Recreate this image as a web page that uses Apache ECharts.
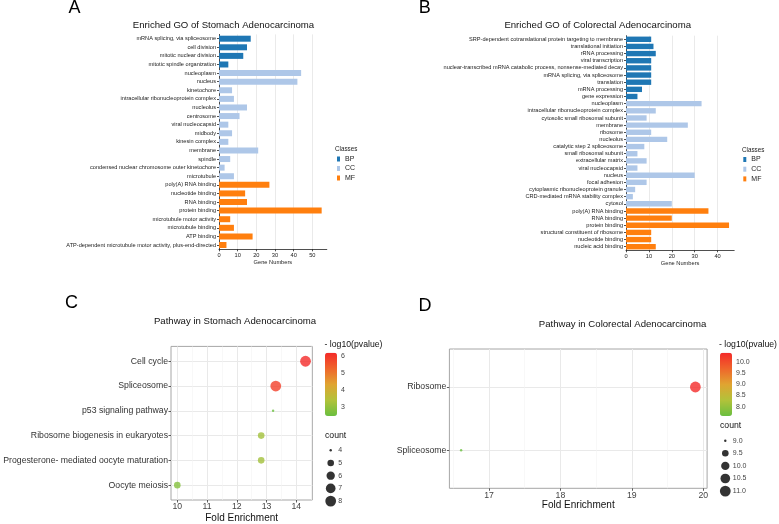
<!DOCTYPE html>
<html><head><meta charset="utf-8">
<script src="https://cdn.jsdelivr.net/npm/echarts@6/dist/echarts.min.js"></script>
<style>html,body{margin:0;padding:0;background:#fff}#c{width:779px;height:524px}</style>
</head><body><div id="c"></div>
<script>
const catsA = ['mRNA splicing, via spliceosome','cell division','mitotic nuclear division','mitotic spindle organization','nucleoplasm','nucleus','kinetochore','intracellular ribonucleoprotein complex','nucleolus','centrosome','viral nucleocapsid','midbody','kinesin complex','membrane','spindle','condensed nuclear chromosome outer kinetochore','microtubule','poly(A) RNA binding','nucleotide binding','RNA binding','protein binding','microtubule motor activity','microtubule binding','ATP binding','ATP-dependent microtubule motor activity, plus-end-directed'];
const classA = ['BP','BP','BP','BP','CC','CC','CC','CC','CC','CC','CC','CC','CC','CC','CC','CC','CC','MF','MF','MF','MF','MF','MF','MF','MF'];
const valsA = [17,15,13,5,44,42,7,8,15,11,5,7,5,21,6,3,8,27,14,15,55,6,8,18,4];

const catsB = ['SRP-dependent cotranslational protein targeting to membrane','translational initiation','rRNA processing','viral transcription','nuclear-transcribed mRNA catabolic process, nonsense-mediated decay','mRNA splicing, via spliceosome','translation','mRNA processing','gene expression','nucleoplasm','intracellular ribonucleoprotein complex','cytosolic small ribosomal subunit','membrane','ribosome','nucleolus','catalytic step 2 spliceosome','small ribosomal subunit','extracellular matrix','viral nucleocapsid','nucleus','focal adhesion','cytoplasmic ribonucleoprotein granule','CRD-mediated mRNA stability complex','cytosol','poly(A) RNA binding','RNA binding','protein binding','structural constituent of ribosome','nucleotide binding','nucleic acid binding'];
const classB = ['BP','BP','BP','BP','BP','BP','BP','BP','BP','CC','CC','CC','CC','CC','CC','CC','CC','CC','CC','CC','CC','CC','CC','CC','MF','MF','MF','MF','MF','MF'];
const valsB = [11,12,13,11,11,11,11,7,5,33,13,9,27,11,18,8,5,9,5,30,9,4,3,20,36,20,45,11,11,13];

const classNames = ['BP','CC','MF'];
const geneTicksA = [0,10,20,30,40,50];
const geneTicksB = [0,10,20,30,40];

const pathC = ['Cell cycle','Spliceosome','p53 signaling pathway','Ribosome biogenesis in eukaryotes','Progesterone- mediated oocyte maturation','Oocyte meiosis'];
const foldC = [14.31,13.31,13.22,12.82,12.82,10.0];
const logpC = [6.20,5.85,2.46,3.2,3.2,2.8];
const countC = [8,8,4,5,5,5];
const foldTicksC = [10,11,12,13,14];
const foldMinorC = [10.5,11.5,12.5,13.5,14.5];
const colorTicksC = [3,4,5,6];
const countLegendC = [4,5,6,7,8];

const pathD = ['Ribosome','Spliceosome'];
const foldD = [19.89,16.61];
const logpD = [10.4,7.59];
const countD = [11,9];
const foldTicksD = [17,18,19,20];
const foldMinorD = [16.5,17.5,18.5,19.5];
const colorTicksD = [8.0,8.5,9.0,9.5,10.0];
const countLegendD = [9.0,9.5,10.0,10.5,11.0];

const COLORS = {BP:'#1f77b4', CC:'#aec7e8', MF:'#ff7f0e'};
const GRAD = ['#6abf3f','#b2c23a','#e0a431','#ef652b','#f42a29'];
const FONT = '"Liberation Sans", Arial, sans-serif';

function sz(c, lo, hi){ return 2.4 + 8.4 * Math.sqrt((c - lo) / (hi - lo)); }

const chart = echarts.init(document.getElementById('c'), null, {renderer:'canvas'});

function barSeries(vals, classes, gi, bw){
  return classNames.map(cn => ({
    name: cn, type:'bar', xAxisIndex: gi, yAxisIndex: gi, stack: 's'+gi,
    barWidth: bw, itemStyle:{color: COLORS[cn]},
    data: vals.map((v,i) => classes[i] === cn ? v : '-'),
    silent: true
  }));
}

function barX(gi, max, ticks){
  return {
    type:'value', gridIndex: gi, min:0, max: max,
    name:'Gene Numbers', nameLocation:'middle', nameGap: 10.5,
    nameTextStyle:{fontSize:5.7, color:'#222'},
    axisLine:{show:true, onZero:false, lineStyle:{color:'#222', width:0.8}},
    axisTick:{show:true, length:2, customValues: ticks, lineStyle:{color:'#222', width:0.8}},
    axisLabel:{fontSize:5.7, color:'#222', margin:3, customValues: ticks},
    splitLine:{show:true, lineStyle:{color:'#e4e4e4', width:0.8}}
  };
}
function barY(gi, cats){
  return {
    type:'category', gridIndex: gi, data: cats, inverse: true,
    axisLine:{show:true, onZero:false, lineStyle:{color:'#222', width:0.8}},
    axisTick:{show:true, length:2, alignWithLabel:true, lineStyle:{color:'#222', width:0.8}},
    axisLabel:{fontSize:5.6, color:'#222', margin:3, interval:0},
    splitLine:{show:false}
  };
}

function scatX(gi, min, max, ticks, nameGap){
  return {
    type:'value', gridIndex: gi, min:min, max:max, position:'bottom',
    name:'Fold Enrichment', nameLocation:'middle', nameGap: nameGap,
    nameTextStyle:{fontSize:10, color:'#111'},
    axisLine:{show:false, onZero:false},
    axisTick:{show:true, length:2.5, customValues: ticks, lineStyle:{color:'#333', width:0.8}},
    axisLabel:{fontSize:8.7, color:'#444', margin:2.5, customValues: ticks},
    splitLine:{show:true, lineStyle:{color:'#e9e9e9', width:1}}
  };
}
function scatXMinor(gi, min, max, ticks){
  return {
    type:'value', gridIndex: gi, min:min, max:max, position:'top',
    axisLine:{show:false, onZero:false}, axisLabel:{show:false},
    axisTick:{show:false, customValues: ticks},
    splitLine:{show:true, lineStyle:{color:'#f3f3f3', width:0.6}}
  };
}
function scatY(gi, cats){
  const idx = cats.map((_,i)=>i);
  return {
    type:'value', gridIndex: gi, min:-0.6, max: cats.length - 0.4, inverse:true,
    axisLine:{show:false, onZero:false},
    axisTick:{show:true, length:2.5, customValues: idx, lineStyle:{color:'#333', width:0.8}},
    axisLabel:{fontSize:8.7, color:'#333', margin:3, customValues: idx, formatter: v => cats[Math.round(v)]},
    splitLine:{show:true, lineStyle:{color:'#e9e9e9', width:1}}
  };
}
function cbarY(gi, min, max, ticks, pos, labels){
  return {
    type:'value', gridIndex: gi, min:min, max:max, position: pos,
    axisLine:{show:false, onZero:false},
    axisTick:{show:true, inside:true, length:2.5, customValues: ticks, lineStyle:{color:'#fff', width:0.8}},
    axisLabel:{show: labels, fontSize:7, color:'#444', margin:4, customValues: ticks,
      formatter: v => (ticks.some(t => t % 1 !== 0) ? v.toFixed(1) : String(v))},
    splitLine:{show:false}
  };
}
function hiddenX(gi){
  return {type:'value', gridIndex: gi, min:0, max:1, show:false, axisLine:{onZero:false}};
}
function sizeY(gi, vals, dec){
  return {
    type:'category', gridIndex: gi, position:'right', inverse:true,
    data: vals.map(v => dec ? v.toFixed(1) : String(v)),
    axisLine:{show:false, onZero:false}, axisTick:{show:false},
    axisLabel:{fontSize:7, color:'#444', margin:2.5},
    splitLine:{show:false}
  };
}

const option = {
  animation:false,
  textStyle:{fontFamily: FONT},
  grid:[
    {left:219, top:34.4, width:107.8, height:214.9},
    {left:626, top:35.7, width:108.2, height:214.6},
    {left:171, top:346.4, width:141.3, height:154, show:true, borderColor:'#a6a6a6', borderWidth:1, backgroundColor:'#fff'},
    {left:449.4, top:349, width:257.7, height:139.3, show:true, borderColor:'#a6a6a6', borderWidth:1, backgroundColor:'#fff'},
    {left:325, top:352.7, width:12, height:63.3},
    {left:720, top:352.7, width:12, height:63.3},
    {left:325.7, top:443.95, width:10, height:63.5},
    {left:720.3, top:434.4, width:10, height:63}
  ],
  xAxis:[
    barX(0, 57.75, geneTicksA),
    barX(1, 47.25, geneTicksB),
    scatX(2, 9.788, 14.538, foldTicksC, 13),
    scatXMinor(2, 9.788, 14.538, foldMinorC),
    scatX(3, 16.446, 20.054, foldTicksD, 12),
    scatXMinor(3, 16.446, 20.054, foldMinorD),
    hiddenX(4), hiddenX(5), hiddenX(6), hiddenX(7)
  ],
  yAxis:[
    barY(0, catsA),
    barY(1, catsB),
    scatY(2, pathC),
    scatY(3, pathD),
    cbarY(4, 2.46, 6.20, colorTicksC, 'right', true),
    cbarY(4, 2.46, 6.20, colorTicksC, 'left', false),
    cbarY(5, 7.587, 10.4, colorTicksD, 'right', true),
    cbarY(5, 7.587, 10.4, colorTicksD, 'left', false),
    sizeY(6, countLegendC, false),
    sizeY(7, countLegendD, true)
  ],
  legend:[
    {data: classNames, orient:'vertical', left:337, top:155.5, padding:0, itemWidth:3, itemHeight:5, itemGap:2.5,
     itemTextGap:2, icon:'rect', selectedMode:false, textStyle:{fontSize:7, lineHeight:7, color:'#222'}},
    {data: classNames, orient:'vertical', left:743.3, top:156, padding:0, itemWidth:3, itemHeight:5, itemGap:2.7,
     itemTextGap:2, icon:'rect', selectedMode:false, textStyle:{fontSize:7, lineHeight:7, color:'#222'}}
  ],
  visualMap:[
    {type:'continuous', seriesIndex:6, dimension:2, min:2.46, max:6.20, inRange:{color:GRAD},
     left:325, top:352.7, itemWidth:12, itemHeight:63.3, padding:0, calculable:false, hoverLink:false, text:null, show:true},
    {type:'continuous', seriesIndex:7, dimension:2, min:7.587, max:10.4, inRange:{color:GRAD},
     left:720, top:352.7, itemWidth:12, itemHeight:63.3, padding:0, calculable:false, hoverLink:false, text:null, show:true}
  ],
  graphic:[
    {type:'text', style:{text:'A', x:74.5, y:8.5, font:'18px '+FONT, fill:'#000', textAlign:'center', textVerticalAlign:'middle', align:'center', verticalAlign:'middle'}},
    {type:'text', style:{text:'B', x:424.7, y:8.5, font:'18px '+FONT, fill:'#000', textAlign:'center', textVerticalAlign:'middle', align:'center', verticalAlign:'middle'}},
    {type:'text', style:{text:'C', x:71.5, y:303.3, font:'18px '+FONT, fill:'#000', textAlign:'center', textVerticalAlign:'middle', align:'center', verticalAlign:'middle'}},
    {type:'text', style:{text:'D', x:425, y:306, font:'18px '+FONT, fill:'#000', textAlign:'center', textVerticalAlign:'middle', align:'center', verticalAlign:'middle'}},
    {type:'text', style:{text:'Enriched GO of Stomach Adenocarcinoma', x:223.5, y:25, font:'9.6px '+FONT, fill:'#111', textAlign:'center', textVerticalAlign:'middle', align:'center', verticalAlign:'middle'}},
    {type:'text', style:{text:'Enriched GO of Colorectal Adenocarcinoma', x:597.7, y:25, font:'9.6px '+FONT, fill:'#111', textAlign:'center', textVerticalAlign:'middle', align:'center', verticalAlign:'middle'}},
    {type:'text', style:{text:'Pathway in Stomach Adenocarcinoma', x:235, y:321, font:'9.6px '+FONT, fill:'#111', textAlign:'center', textVerticalAlign:'middle', align:'center', verticalAlign:'middle'}},
    {type:'text', style:{text:'Pathway in Colorectal Adenocarcinoma', x:622.5, y:324.5, font:'9.6px '+FONT, fill:'#111', textAlign:'center', textVerticalAlign:'middle', align:'center', verticalAlign:'middle'}},
    {type:'text', style:{text:'Classes', x:335, y:149, font:'6.3px '+FONT, fill:'#222', textAlign:'left', textVerticalAlign:'middle', align:'left', verticalAlign:'middle'}},
    {type:'text', style:{text:'Classes', x:742, y:150, font:'6.3px '+FONT, fill:'#222', textAlign:'left', textVerticalAlign:'middle', align:'left', verticalAlign:'middle'}},
    {type:'text', style:{text:'- log10(pvalue)', x:324.5, y:344.5, font:'8.7px '+FONT, fill:'#111', textAlign:'left', textVerticalAlign:'middle', align:'left', verticalAlign:'middle'}},
    {type:'text', style:{text:'- log10(pvalue)', x:719, y:344.5, font:'8.7px '+FONT, fill:'#111', textAlign:'left', textVerticalAlign:'middle', align:'left', verticalAlign:'middle'}},
    {type:'text', style:{text:'count', x:325, y:436, font:'8.7px '+FONT, fill:'#111', textAlign:'left', textVerticalAlign:'middle', align:'left', verticalAlign:'middle'}},
    {type:'text', style:{text:'count', x:720, y:426, font:'8.7px '+FONT, fill:'#111', textAlign:'left', textVerticalAlign:'middle', align:'left', verticalAlign:'middle'}}
  ],
  series:[
    ...barSeries(valsA, classA, 0, 6),
    ...barSeries(valsB, classB, 1, 5.4),
    {type:'scatter', name:'pathC', xAxisIndex:2, yAxisIndex:2, silent:true,
     data: foldC.map((f,i)=>[f, i, logpC[i], countC[i]]),
     symbolSize: v => sz(v[3], 4, 8)},
    {type:'scatter', name:'pathD', xAxisIndex:4, yAxisIndex:3, silent:true,
     data: foldD.map((f,i)=>[f, i, logpD[i], countD[i]]),
     symbolSize: v => sz(v[3], 9, 11)},
    {type:'scatter', name:'sizeC', xAxisIndex:8, yAxisIndex:8, silent:true, itemStyle:{color:'#000'},
     data: countLegendC.map((c,i)=>[0.5, i, c]),
     symbolSize: v => sz(v[2], 4, 8)},
    {type:'scatter', name:'sizeD', xAxisIndex:9, yAxisIndex:9, silent:true, itemStyle:{color:'#000'},
     data: countLegendD.map((c,i)=>[0.5, i, c]),
     symbolSize: v => sz(v[2], 9, 11)}
  ]
};
chart.setOption(option);
</script></body></html>
